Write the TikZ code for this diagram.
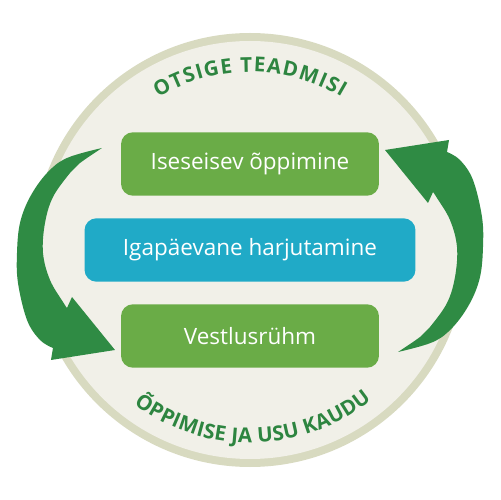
\documentclass[tikz,border=0pt]{standalone}
\usepackage{fontspec}
\setmainfont{Open Sans}
\newfontfamily\arcfont{Open Sans}
\usetikzlibrary{decorations.text}

\definecolor{rimbeige}{HTML}{D8DAC0}
\definecolor{discbeige}{HTML}{F1F0E8}
\definecolor{leafgreen}{HTML}{6AAC47}
\definecolor{seablue}{HTML}{20AAC7}
\definecolor{arrowgreen}{HTML}{2F8B44}
\definecolor{wordgreen}{HTML}{2D8540}

\tikzset{
  stagebox/.style={rounded corners=0.24cm, minimum height=1.27cm, inner sep=0pt, text=white, font=\fontsize{12.8}{15}\selectfont},
  cyclearrow/.style={fill=arrowgreen, draw=none},
  arcword/.style={decorate, decoration={text along path, text align=fit to path, text color=wordgreen, text={|\arcfont\bfseries\fontsize{11.7}{13}\selectfont|#1}}}
}

\begin{document}
\begin{tikzpicture}[x=0.02cm, y=0.02cm]
\useasboundingbox (-250,-250) rectangle (250,250);
\fill[rimbeige] (0,0) circle (217);
\fill[discbeige] (0,0) circle (209);

\node[stagebox, fill=leafgreen, minimum width=5.16cm] (self) at (0,86) {Iseseisev õppimine};
\node[stagebox, fill=seablue, minimum width=6.62cm] (daily) at (0,0) {Igapäevane harjutamine};
\node[stagebox, fill=leafgreen, minimum width=5.16cm] (group) at (0,-86) {Vestlusrühm};

% curved captions
\path[arcword={OTSIGE TEADMISI}] (121:178) arc[start angle=121, end angle=59, radius=178];
\path[arcword={ÕPPIMISE JA USU KAUDU}] (-127:193) arc[start angle=-127, end angle=-51, radius=193];

% the two turning arrows
\foreach \turn in {0,180}
  \fill[cyclearrow, rotate=\turn] plot[smooth, tension=.6] coordinates {(148,-102) (183,-92) (203,-77) (220,-53) (230,-27) (233,3) (232,33) (223,70) (210,90) (197,98)}
    -- (199,110) -- (135,100) -- (178,47)
    -- plot[smooth, tension=.6] coordinates {(183,58) (187,52) (200,30) (207,3) (205,-27) (197,-53) (180,-77) (170,-87) (148,-102)} -- cycle;

\end{tikzpicture}
\end{document}
